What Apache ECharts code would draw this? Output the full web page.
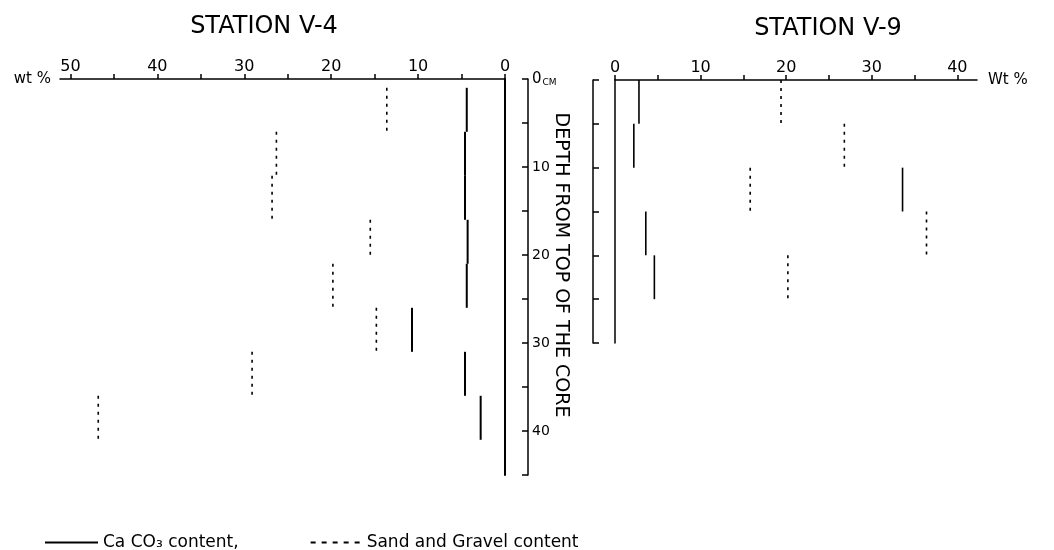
<!DOCTYPE html>
<html>
<head>
<meta charset="utf-8">
<script src="https://cdn.jsdelivr.net/npm/echarts@6/dist/echarts.min.js"></script>
<style>html,body{margin:0;padding:0;background:#fff}#c{width:1054px;height:550px}</style>
</head>
<body>
<div id="c"></div>
<script>
// ---- Data ----
// Station V-4 : sample depth intervals (cm) and contents (wt %)
const v4DepthTop    = [1, 6, 11, 16, 21, 26, 31, 36];
const v4DepthBottom = [6, 11, 16, 21, 26, 31, 36, 41];
const v4CaCO3       = [4.4, 4.6, 4.6, 4.3, 4.4, 10.7, 4.6, 2.8];
const v4SandBottom  = [6, 11, 16, 20, 26, 31, 36, 41];
const v4Sand        = [13.6, 26.3, 26.8, 15.5, 19.8, 14.8, 29.1, 46.8];
// Station V-9
const v9DepthTop    = [0, 5, 10, 15, 20];
const v9DepthBottom = [5, 10, 15, 20, 25];
const v9CaCO3       = [2.8, 2.2, 33.6, 3.6, 4.6];
const v9Sand        = [19.4, 26.8, 15.8, 36.4, 20.2];
// Axis ticks / labels
const v4WtLabels = [0, 10, 20, 30, 40, 50];
const v4WtTicks  = [0, 5, 10, 15, 20, 25, 30, 35, 40, 45, 50];
const v9WtLabels = [0, 10, 20, 30, 40];
const v9WtTicks  = [0, 5, 10, 15, 20, 25, 30, 35, 40];
const depthLabels = [0, 10, 20, 30, 40];

const FONT = 'DejaVu Sans';
const caName = 'Ca CO\u2083 content,';
const sandName = 'Sand and Gravel content';

function seg(vals, tops, bottoms) {
  return vals.map((v, i) => [v, tops[i], bottoms[i]]);
}
function makeRender(dashed, width) {
  return function (params, api) {
    const p0 = api.coord([api.value(0), api.value(1)]);
    const p1 = api.coord([api.value(0), api.value(2)]);
    return {
      type: 'line',
      shape: { x1: p0[0], y1: p0[1], x2: p1[0], y2: p1[1] },
      style: { stroke: '#000', lineWidth: width, lineDash: dashed ? [3, 5] : null, fill: null }
    };
  };
}

const axisLineStyle = { color: '#000', width: 1.5 };
const chart = echarts.init(document.getElementById('c'), null, { renderer: 'canvas' });
chart.setOption({
  backgroundColor: '#fff',
  animation: false,
  textStyle: { fontFamily: FONT, color: '#000' },
  title: [
    { text: 'STATION V-4', left: 259, top: 10, textAlign: 'center',
      textStyle: { fontFamily: FONT, fontSize: 24, fontWeight: 'normal', color: '#000' } },
    { text: 'STATION V-9', left: 823, top: 12, textAlign: 'center',
      textStyle: { fontFamily: FONT, fontSize: 24, fontWeight: 'normal', color: '#000' } }
  ],
  legend: {
    left: 40, top: 529, selectedMode: false,
    itemWidth: 53, itemHeight: 2, itemGap: 72,
    textStyle: { fontFamily: FONT, fontSize: 17, color: '#000' },
    data: [
      { name: caName, icon: 'path://M0,0H53V2H0Z' },
      { name: sandName, icon: 'path://M0,0H5V2H0Z M11,0H16V2H11Z M22,0H27V2H22Z M33,0H38V2H33Z M44,0H49V2H44Z' }
    ]
  },
  grid: [
    { left: 60, top: 79, width: 445, height: 396 },
    { left: 615, top: 80, width: 362, height: 263 }
  ],
  xAxis: [
    { gridIndex: 0, type: 'value', position: 'top', inverse: true, min: 0, max: 51.2,
      axisLine: { show: true, lineStyle: axisLineStyle },
      axisTick: { show: true, customValues: v4WtTicks, length: 5, lineStyle: axisLineStyle },
      axisLabel: { customValues: v4WtLabels, fontSize: 16, color: '#000', margin: 4, fontFamily: FONT },
      splitLine: { show: false },
      name: 'wt %', nameLocation: 'end', nameGap: 9,
      nameTextStyle: { fontSize: 15, color: '#000', fontFamily: FONT } },
    { gridIndex: 1, type: 'value', position: 'top', min: 0, max: 42.3,
      axisLine: { show: true, lineStyle: axisLineStyle },
      axisTick: { show: true, customValues: v9WtTicks, length: 5, lineStyle: axisLineStyle },
      axisLabel: { customValues: v9WtLabels, fontSize: 16, color: '#000', margin: 4, fontFamily: FONT },
      splitLine: { show: false },
      name: 'Wt %', nameLocation: 'end', nameGap: 11,
      nameTextStyle: { fontSize: 15, color: '#000', fontFamily: FONT } }
  ],
  yAxis: [
    // V-4 zero line
    { gridIndex: 0, type: 'value', position: 'right', inverse: true, min: 0, max: 45,
      axisLine: { show: true, lineStyle: { color: '#000', width: 2 } },
      axisTick: { show: false }, axisLabel: { show: false }, splitLine: { show: false } },
    // depth scale (cm)
    { gridIndex: 0, type: 'value', position: 'right', offset: 23, inverse: true, min: 0, max: 45, interval: 5,
      axisLine: { show: true, lineStyle: axisLineStyle },
      axisTick: { show: true, inside: true, length: 6, lineStyle: axisLineStyle },
      axisLabel: {
        show: true, margin: 4, fontSize: 14, color: '#000', fontFamily: FONT,
        formatter: function (v) {
          if (v === 0) return '{a|0}{b|CM}';
          return depthLabels.indexOf(v) >= 0 ? String(v) : '';
        },
        rich: {
          a: { fontSize: 15, fontFamily: FONT, color: '#000' },
          b: { fontSize: 9, fontFamily: FONT, color: '#000', padding: [8, 0, 0, 1] }
        }
      },
      splitLine: { show: false } },
    // V-9 zero line
    { gridIndex: 1, type: 'value', position: 'left', inverse: true, min: 0, max: 30,
      axisLine: { show: true, lineStyle: { color: '#000', width: 1.5 } },
      axisTick: { show: false }, axisLabel: { show: false }, splitLine: { show: false } },
    // V-9 core depth bracket
    { gridIndex: 1, type: 'value', position: 'left', offset: 22, inverse: true, min: 0, max: 30, interval: 5,
      axisLine: { show: true, lineStyle: axisLineStyle },
      axisTick: { show: true, inside: true, length: 6, lineStyle: axisLineStyle },
      axisLabel: { show: false }, splitLine: { show: false } }
  ],
  graphic: [
    { type: 'text', x: 561, y: 265, rotation: -Math.PI / 2,
      style: { text: 'DEPTH FROM TOP OF THE CORE', font: '19px "DejaVu Sans"', fill: '#000',
               align: 'center', verticalAlign: 'middle' } }
  ],
  series: [
    { name: caName, type: 'custom', xAxisIndex: 0, yAxisIndex: 0, itemStyle: { color: '#000' },
      encode: { x: 0, y: [1, 2] }, renderItem: makeRender(false, 2),
      data: seg(v4CaCO3, v4DepthTop, v4DepthBottom) },
    { name: sandName, type: 'custom', xAxisIndex: 0, yAxisIndex: 0, itemStyle: { color: '#000' },
      encode: { x: 0, y: [1, 2] }, renderItem: makeRender(true, 1.6),
      data: seg(v4Sand, v4DepthTop, v4SandBottom) },
    { name: caName, type: 'custom', xAxisIndex: 1, yAxisIndex: 2, itemStyle: { color: '#000' },
      encode: { x: 0, y: [1, 2] }, renderItem: makeRender(false, 1.6),
      data: seg(v9CaCO3, v9DepthTop, v9DepthBottom) },
    { name: sandName, type: 'custom', xAxisIndex: 1, yAxisIndex: 2, itemStyle: { color: '#000' },
      encode: { x: 0, y: [1, 2] }, renderItem: makeRender(true, 1.6),
      data: seg(v9Sand, v9DepthTop, v9DepthBottom) }
  ]
});
</script>
</body>
</html>
